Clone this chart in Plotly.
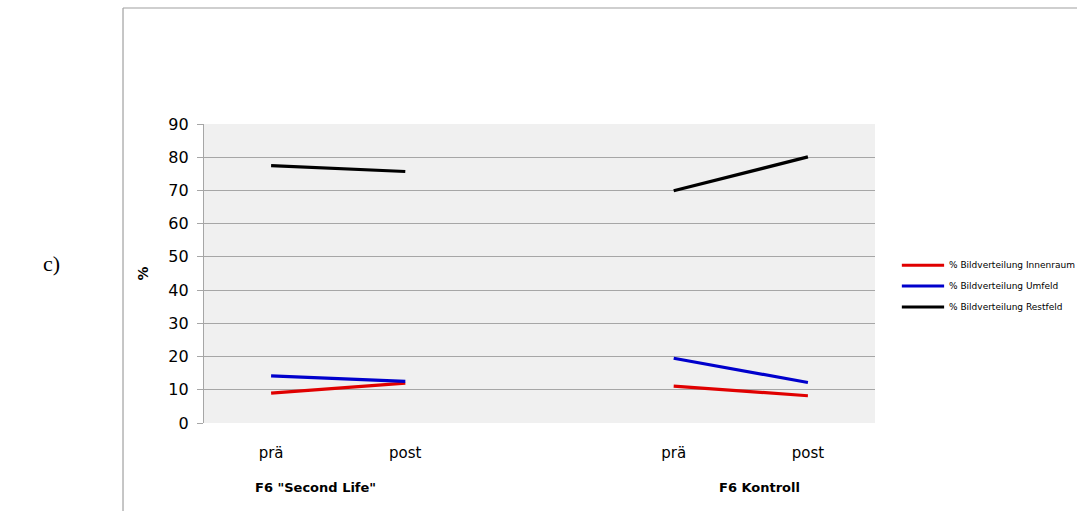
import plotly.graph_objects as go

# Category slots: two groups (prä/post) with an empty slot between them
x_pos = [0, 1, 3, 4]
x_labels = ["prä", "post", "prä", "post"]
group_labels = ['F6 "Second Life"', "F6 Kontroll"]
group_label_x = [0.33, 3.64]

series_names = [
    "% Bildverteilung Innenraum",
    "% Bildverteilung Umfeld",
    "% Bildverteilung Restfeld",
]
series_colors = ["#e00000", "#0000cc", "#000000"]

# values per group: [prä, post]
innenraum_sl = [9.0, 12.0]
innenraum_k = [11.1, 8.2]
umfeld_sl = [14.2, 12.5]
umfeld_k = [19.5, 12.2]
restfeld_sl = [77.5, 75.7]
restfeld_k = [69.9, 80.1]

series_sl = [innenraum_sl, umfeld_sl, restfeld_sl]
series_k = [innenraum_k, umfeld_k, restfeld_k]

y_ticks = [0, 10, 20, 30, 40, 50, 60, 70, 80, 90]

FONT = "DejaVu Sans"
GRID = "#a6a6a6"

fig = go.Figure()
for name, color, sl, k in zip(series_names, series_colors, series_sl, series_k):
    fig.add_trace(go.Scatter(x=x_pos[:2], y=sl, mode="lines", name=name,
                             line=dict(color=color, width=3.2), showlegend=False))
    fig.add_trace(go.Scatter(x=x_pos[2:], y=k, mode="lines", name=name,
                             line=dict(color=color, width=3.2), showlegend=False))

# Legend drawn by hand on the right
legend_y = [0.528, 0.458, 0.388]
shapes = []
annotations = []
for name, color, ly in zip(series_names, series_colors, legend_y):
    shapes.append(dict(type="line", xref="paper", yref="paper",
                       x0=1.040, x1=1.103, y0=ly, y1=ly,
                       line=dict(color=color, width=3)))
    annotations.append(dict(text=name, xref="paper", yref="paper",
                            x=1.108, y=ly, xanchor="left", yanchor="middle",
                            showarrow=False, font=dict(family=FONT, size=9, color="#000")))

# Outer frame (left and top edges)
shapes.append(dict(type="line", xref="paper", yref="paper",
                   x0=-0.1207, x1=-0.1207, y0=-0.3, y1=1.388,
                   line=dict(color="#a0a0a0", width=1.2)))
shapes.append(dict(type="line", xref="paper", yref="paper",
                   x0=-0.1207, x1=1.31, y0=1.388, y1=1.388,
                   line=dict(color="#a0a0a0", width=1.2)))

for gl, gx in zip(group_labels, group_label_x):
    annotations.append(dict(text="<b>%s</b>" % gl, xref="x", yref="paper",
                            x=gx, y=-0.215, xanchor="center", yanchor="middle",
                            showarrow=False, font=dict(family=FONT, size=13, color="#000")))

annotations.append(dict(text="c)", xref="paper", yref="paper",
                        x=-0.227, y=0.535, xanchor="center", yanchor="middle",
                        showarrow=False,
                        font=dict(family="Liberation Serif", size=22, color="#000")))

fig.update_layout(
    width=1077, height=511,
    margin=dict(l=204, r=202, t=124, b=88),
    paper_bgcolor="white",
    plot_bgcolor="#f0f0f0",
    shapes=shapes,
    annotations=annotations,
    font=dict(family=FONT, color="#000"),
    showlegend=False,
)
fig.update_xaxes(
    range=[-0.5, 4.5], tickvals=x_pos, ticktext=x_labels,
    showgrid=False, zeroline=False, showline=False, ticks="",
    tickfont=dict(family=FONT, size=15, color="#000"),
    ticklabelstandoff=19,
)
fig.update_yaxes(
    range=[0, 90], tickvals=y_ticks,
    showgrid=True, gridcolor=GRID, gridwidth=1,
    zeroline=False, showline=True, linecolor=GRID, linewidth=1.2,
    ticks="outside", ticklen=6, tickcolor=GRID,
    tickfont=dict(family=FONT, size=16, color="#000"),
    ticklabelstandoff=5,
    title=dict(text="<b>%</b>", font=dict(family=FONT, size=14, color="#000"),
               standoff=16),
)

fig.write_html("out.html")
